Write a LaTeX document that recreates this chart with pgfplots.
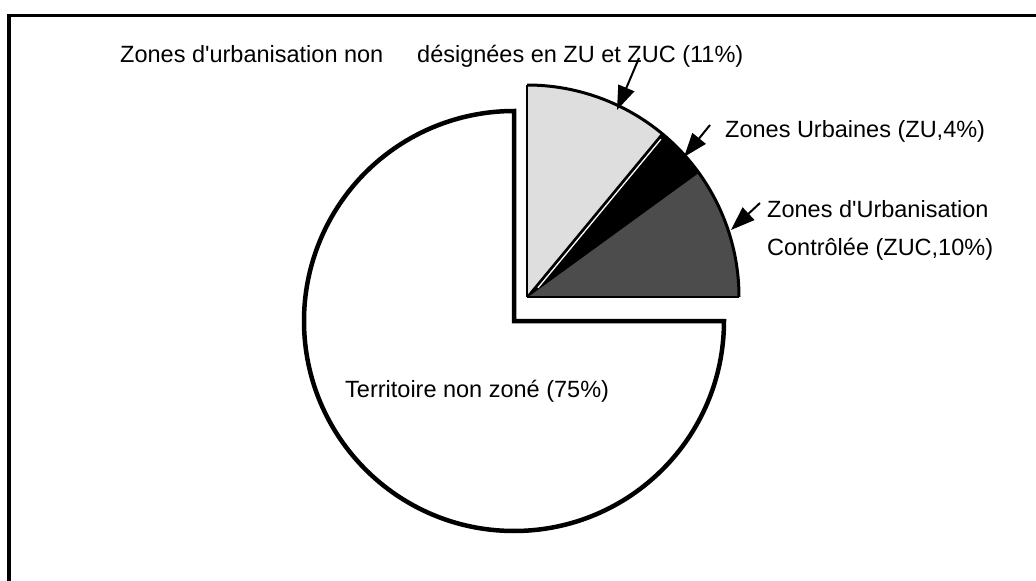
\documentclass[border=0pt]{standalone}
\usepackage{pgfplots}
\pgfplotsset{compat=1.18}
\usepackage{pgfplotstable}
\usepackage{fontspec}
\setmainfont{Liberation Sans}
\usetikzlibrary{arrows.meta}

\pgfplotstableread{
label value
ZNU 11
ZU 4
ZUC 10
TNZ 75
}\piedata

\newcommand\lbl{\fontsize{23.5bp}{28bp}\selectfont}

\begin{document}
\begin{tikzpicture}
\pgfplotstablegetelem{0}{value}\of\piedata \pgfmathsetmacro\vA{\pgfplotsretval}
\pgfplotstablegetelem{1}{value}\of\piedata \pgfmathsetmacro\vB{\pgfplotsretval}
\pgfplotstablegetelem{2}{value}\of\piedata \pgfmathsetmacro\vC{\pgfplotsretval}
\pgfplotstablegetelem{3}{value}\of\piedata \pgfmathsetmacro\vD{\pgfplotsretval}
% cumulative angles, clockwise from 90 degrees
\pgfmathsetmacro\aA{90-3.6*\vA}
\pgfmathsetmacro\aB{\aA-3.6*\vB}
\pgfmathsetmacro\aC{\aB-3.6*\vC}
\pgfmathsetmacro\aD{\aC-3.6*\vD}
\useasboundingbox (0,0) rectangle (1036bp,581bp);
\begin{axis}[
  scale only axis, width=1036bp, height=581bp,
  xmin=0, xmax=1036, ymin=0, ymax=581, y dir=reverse,
  hide axis, clip=false,
]
% frame (top and left only)
\draw[line width=3bp] (axis cs:9,600) -- (axis cs:9,16) -- (axis cs:1036,16);

% exploded slices
\def\R{212bp}
\fill[black!13] (axis cs:527,297) -- ++(90:\R) arc[start angle=90, end angle=\aA, radius=\R] -- cycle;
\fill[black] (axis cs:527,297) -- ++(\aA:\R) arc[start angle=\aA, end angle=\aB, radius=\R] -- cycle;
\fill[black!70] (axis cs:527,297) -- ++(\aB:\R) arc[start angle=\aB, end angle=\aC, radius=\R] -- cycle;
\draw[line width=1.8bp] (axis cs:527,297) -- ++(90:\R);
\draw[line width=1.8bp] (axis cs:527,297) -- ++(\aA:\R);
\draw[line width=1.2bp] (axis cs:527,297) -- ++(\aB:\R);
\draw[line width=1.8bp] (axis cs:527,297) -- ++(\aC:\R);
\draw[line width=3bp] (axis cs:527,297) ++(90:\R) arc[start angle=90, end angle=\aC, radius=\R];
\draw[white, line width=1.3bp] (axis cs:527,297) ++(\aA-90:2.6bp) ++(\aA:14bp) -- ++(\aA:193bp);

% main slice
\draw[line width=4.5bp, fill=white] (axis cs:514,321) -- ++(\aC:210bp) arc[start angle=\aC, end angle=\aD, radius=210bp] -- cycle;

% arrows
\draw[line width=2bp, -{Triangle[length=24bp,width=17bp]}] (axis cs:639,58) -- (axis cs:617,110);
\draw[line width=2bp, -{Triangle[length=24bp,width=17bp]}] (axis cs:710,125) -- (axis cs:684,157);
\draw[line width=2bp, -{Triangle[length=24bp,width=17bp]}] (axis cs:760,203) -- (axis cs:731,230);

% labels
\node[anchor=base west, inner sep=0pt, font=\lbl] at (axis cs:120,63) {Zones d\textquotesingle urbanisation non};
\node[anchor=base west, inner sep=0pt, font=\lbl] at (axis cs:417,63) {désignées en ZU et ZUC (11\%)};
\node[anchor=base west, inner sep=0pt, font=\lbl] at (axis cs:725,137) {Zones Urbaines (ZU,4\%)};
\node[anchor=base west, inner sep=0pt, font=\lbl] at (axis cs:767,217) {Zones d\textquotesingle Urbanisation};
\node[anchor=base west, inner sep=0pt, font=\lbl] at (axis cs:767,255) {Contrôlée (ZUC,10\%)};
\node[anchor=base west, inner sep=0pt, font=\lbl] at (axis cs:345,397) {Territoire non zoné (75\%)};
\end{axis}
\end{tikzpicture}
\end{document}
